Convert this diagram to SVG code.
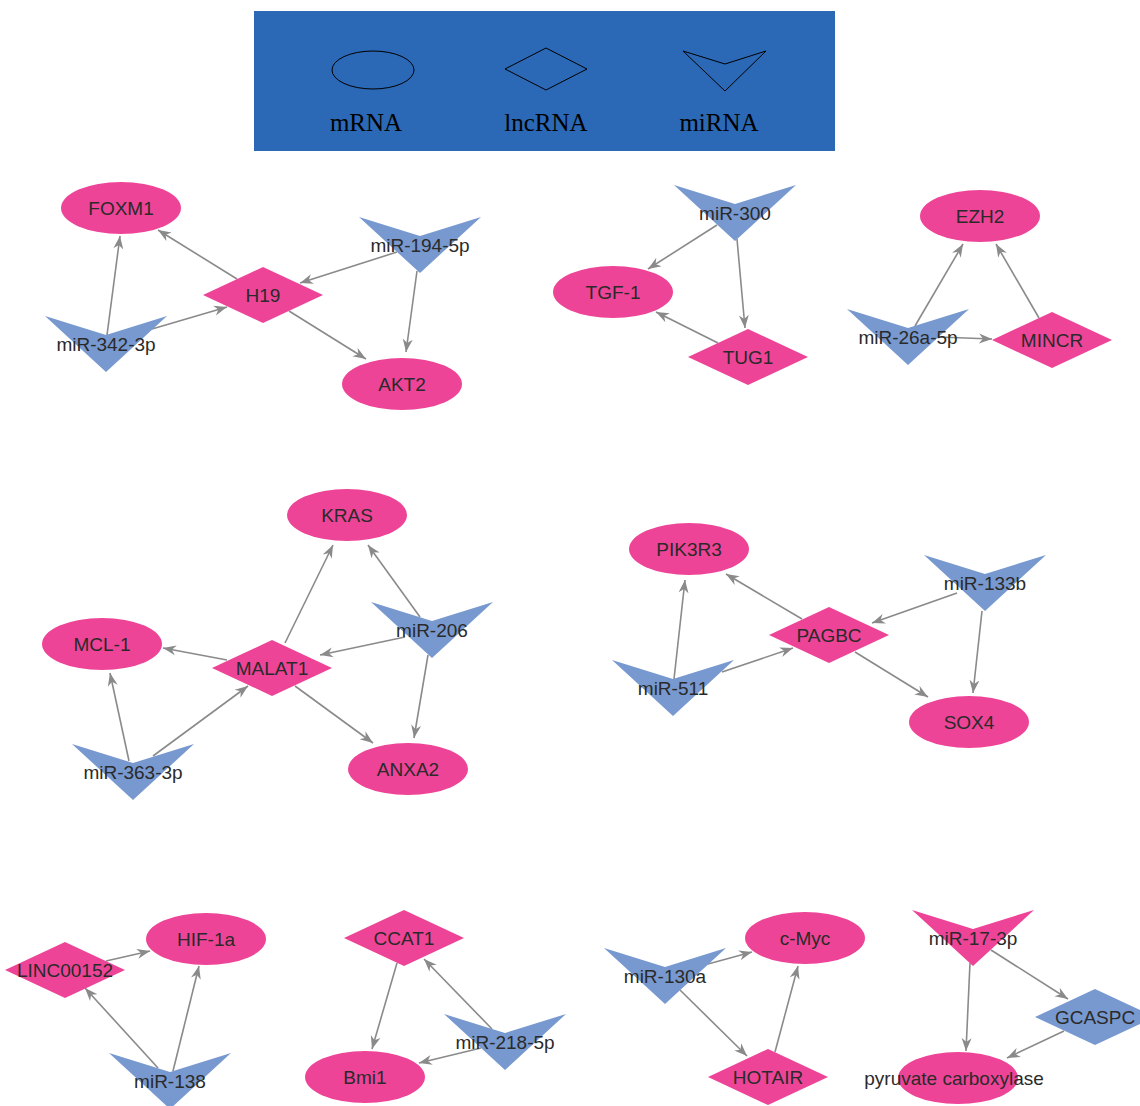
<svg xmlns="http://www.w3.org/2000/svg" xmlns:xlink="http://www.w3.org/1999/xlink" width="1140" height="1106" viewBox="0 0 1140 1106">
<style>
.pk{fill:#EE4497}
.bl{fill:#7899CF}
.lb{font-family:"Liberation Sans",Arial,sans-serif;font-size:19px;fill:#2a2a2a;text-anchor:middle}
.lg{font-family:"Liberation Serif","Times New Roman",serif;font-size:25px;fill:#000;text-anchor:middle}
.ls{fill:none;stroke:#000;stroke-width:1}
.e line{stroke:#8a8a8a;stroke-width:1.6;marker-end:url(#arr)}
</style>
<defs>
<marker id="arr" markerWidth="14" markerHeight="11" refX="13" refY="5.5" orient="auto" markerUnits="userSpaceOnUse"><path d="M0,0.5 L13,5.5 L0,10.5 L4,5.5 Z" fill="#8a8a8a"/></marker>
<ellipse id="ell" rx="60" ry="26"/>
<path id="dia" d="M-60,0 L0,-28 L60,0 L0,28 Z"/>
<path id="vee" d="M-61,-28 L0,-9 L61,-28 L0,28 Z"/>
</defs>
<rect width="1140" height="1106" fill="#fff"/>
<g id="legend">
<rect x="254" y="11" width="581" height="140" fill="#2B68B6"/>
<ellipse class="ls" cx="373" cy="70" rx="41" ry="19"/>
<path class="ls" d="M505,69 L546,48 L587,69 L546,90 Z"/>
<path class="ls" d="M683,51 L725,64 L766,51 L725,91 Z"/>
<text class="lg" x="366" y="131">mRNA</text>
<text class="lg" x="546" y="131">lncRNA</text>
<text class="lg" x="719" y="131">miRNA</text>
</g>
<g id="edges" class="e">
<line x1="237" y1="279" x2="158" y2="230"/>
<line x1="397" y1="252" x2="300" y2="283"/>
<line x1="417" y1="271" x2="406" y2="352"/>
<line x1="289" y1="311" x2="366" y2="359"/>
<line x1="107" y1="335" x2="120" y2="236"/>
<line x1="152" y1="329" x2="227" y2="307"/>
<line x1="717" y1="225" x2="648" y2="269"/>
<line x1="737" y1="239" x2="745" y2="328"/>
<line x1="718" y1="343" x2="656" y2="312"/>
<line x1="915" y1="326" x2="963" y2="244"/>
<line x1="1039" y1="318" x2="996" y2="244"/>
<line x1="938" y1="337" x2="992" y2="339"/>
<line x1="285" y1="643" x2="333" y2="545"/>
<line x1="420" y1="617" x2="368" y2="545"/>
<line x1="405" y1="637" x2="320" y2="655"/>
<line x1="227" y1="660" x2="163" y2="648"/>
<line x1="428" y1="655" x2="414" y2="738"/>
<line x1="295" y1="686" x2="373" y2="743"/>
<line x1="129" y1="761" x2="110" y2="673"/>
<line x1="153" y1="756" x2="248" y2="686"/>
<line x1="802" y1="619" x2="726" y2="574"/>
<line x1="957" y1="593" x2="872" y2="623"/>
<line x1="982" y1="611" x2="973" y2="693"/>
<line x1="855" y1="652" x2="928" y2="697"/>
<line x1="674" y1="679" x2="685" y2="580"/>
<line x1="722" y1="672" x2="793" y2="648"/>
<line x1="106" y1="961" x2="150" y2="951"/>
<line x1="158" y1="1068" x2="85" y2="988"/>
<line x1="173" y1="1071" x2="199" y2="966"/>
<line x1="397" y1="963" x2="372" y2="1049"/>
<line x1="492" y1="1029" x2="424" y2="959"/>
<line x1="481" y1="1048" x2="419" y2="1063"/>
<line x1="708" y1="964" x2="752" y2="952"/>
<line x1="680" y1="990" x2="747" y2="1056"/>
<line x1="775" y1="1052" x2="798" y2="966"/>
<line x1="970" y1="963" x2="966" y2="1051"/>
<line x1="991" y1="950" x2="1068" y2="999"/>
<line x1="1064" y1="1031" x2="1007" y2="1058"/>
</g>
<g id="n-FOXM1" transform="translate(121,208)"><use href="#ell" class="pk"/><text class="lb" y="7">FOXM1</text></g>
<g id="n-H19" transform="translate(263,295)"><use href="#dia" class="pk"/><text class="lb" y="7">H19</text></g>
<g id="n-miR-194-5p" transform="translate(420,245)"><use href="#vee" class="bl"/><text class="lb" y="7">miR-194-5p</text></g>
<g id="n-miR-342-3p" transform="translate(106,344)"><use href="#vee" class="bl"/><text class="lb" y="7">miR-342-3p</text></g>
<g id="n-AKT2" transform="translate(402,384)"><use href="#ell" class="pk"/><text class="lb" y="7">AKT2</text></g>
<g id="n-miR-300" transform="translate(735,213)"><use href="#vee" class="bl"/><text class="lb" y="7">miR-300</text></g>
<g id="n-TGF-1" transform="translate(613,292)"><use href="#ell" class="pk"/><text class="lb" y="7">TGF-1</text></g>
<g id="n-TUG1" transform="translate(748,357)"><use href="#dia" class="pk"/><text class="lb" y="7">TUG1</text></g>
<g id="n-EZH2" transform="translate(980,216)"><use href="#ell" class="pk"/><text class="lb" y="7">EZH2</text></g>
<g id="n-miR-26a-5p" transform="translate(908,337)"><use href="#vee" class="bl"/><text class="lb" y="7">miR-26a-5p</text></g>
<g id="n-MINCR" transform="translate(1052,340)"><use href="#dia" class="pk"/><text class="lb" y="7">MINCR</text></g>
<g id="n-KRAS" transform="translate(347,515)"><use href="#ell" class="pk"/><text class="lb" y="7">KRAS</text></g>
<g id="n-MCL-1" transform="translate(102,644)"><use href="#ell" class="pk"/><text class="lb" y="7">MCL-1</text></g>
<g id="n-MALAT1" transform="translate(272,668)"><use href="#dia" class="pk"/><text class="lb" y="7">MALAT1</text></g>
<g id="n-miR-206" transform="translate(432,630)"><use href="#vee" class="bl"/><text class="lb" y="7">miR-206</text></g>
<g id="n-miR-363-3p" transform="translate(133,772)"><use href="#vee" class="bl"/><text class="lb" y="7">miR-363-3p</text></g>
<g id="n-ANXA2" transform="translate(408,769)"><use href="#ell" class="pk"/><text class="lb" y="7">ANXA2</text></g>
<g id="n-PIK3R3" transform="translate(689,549)"><use href="#ell" class="pk"/><text class="lb" y="7">PIK3R3</text></g>
<g id="n-PAGBC" transform="translate(829,635)"><use href="#dia" class="pk"/><text class="lb" y="7">PAGBC</text></g>
<g id="n-miR-133b" transform="translate(985,583)"><use href="#vee" class="bl"/><text class="lb" y="7">miR-133b</text></g>
<g id="n-miR-511" transform="translate(673,688)"><use href="#vee" class="bl"/><text class="lb" y="7">miR-511</text></g>
<g id="n-SOX4" transform="translate(969,722)"><use href="#ell" class="pk"/><text class="lb" y="7">SOX4</text></g>
<g id="n-LINC00152" transform="translate(65,970)"><use href="#dia" class="pk"/><text class="lb" y="7">LINC00152</text></g>
<g id="n-HIF-1a" transform="translate(206,939)"><use href="#ell" class="pk"/><text class="lb" y="7">HIF-1a</text></g>
<g id="n-miR-138" transform="translate(170,1081)"><use href="#vee" class="bl"/><text class="lb" y="7">miR-138</text></g>
<g id="n-CCAT1" transform="translate(404,938)"><use href="#dia" class="pk"/><text class="lb" y="7">CCAT1</text></g>
<g id="n-Bmi1" transform="translate(365,1077)"><use href="#ell" class="pk"/><text class="lb" y="7">Bmi1</text></g>
<g id="n-miR-218-5p" transform="translate(505,1042)"><use href="#vee" class="bl"/><text class="lb" y="7">miR-218-5p</text></g>
<g id="n-c-Myc" transform="translate(805,938)"><use href="#ell" class="pk"/><text class="lb" y="7">c-Myc</text></g>
<g id="n-miR-130a" transform="translate(665,976)"><use href="#vee" class="bl"/><text class="lb" y="7">miR-130a</text></g>
<g id="n-HOTAIR" transform="translate(768,1077)"><use href="#dia" class="pk"/><text class="lb" y="7">HOTAIR</text></g>
<g id="n-miR-17-3p" transform="translate(973,938)"><use href="#vee" class="pk"/><text class="lb" y="7">miR-17-3p</text></g>
<g id="n-GCASPC" transform="translate(1095,1017)"><use href="#dia" class="bl"/><text class="lb" y="7">GCASPC</text></g>
<g id="n-pyruvate-carboxylase" transform="translate(958,1078)"><use href="#ell" class="pk"/><text class="lb" x="-4" y="7">pyruvate carboxylase</text></g>
</svg>
